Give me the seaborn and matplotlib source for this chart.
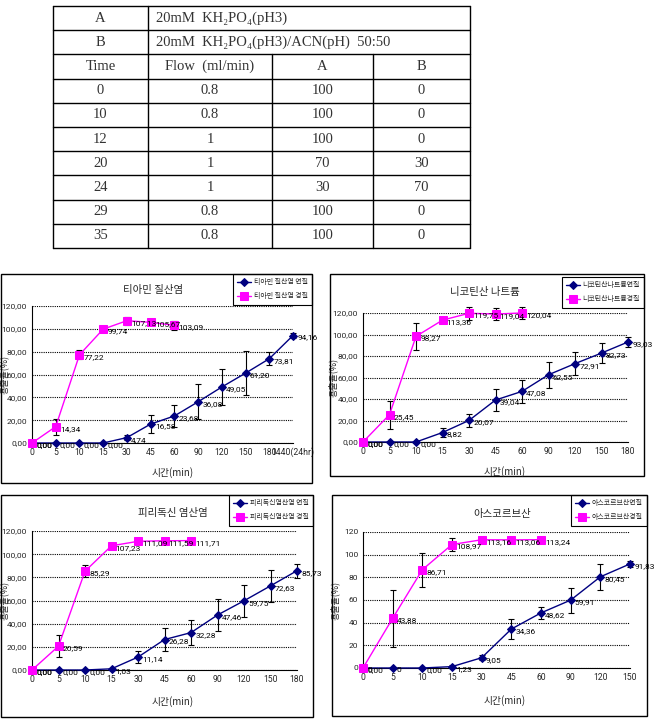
import numpy as np
import matplotlib
matplotlib.use("Agg")
import matplotlib.pyplot as plt
from matplotlib.patches import Rectangle
import seaborn as sns

# 표 데이터 (이동상 조건)
solvent_names = ["A", "B"]
solvent_desc = ["20mM  KH₂PO₄(pH3)", "20mM  KH₂PO₄(pH3)/ACN(pH)  50:50"]
table_header = ["Time", "Flow  (ml/min)", "A", "B"]
grad_time = ["0", "10", "12", "20", "24", "29", "35"]
grad_flow = ["0.8", "0.8", "1", "1", "1", "0.8", "0.8"]
grad_a = ["100", "100", "100", "70", "30", "100", "100"]
grad_b = ["0", "0", "0", "30", "70", "0", "0"]

# 용출 데이터
time_1 = ["0", "5", "10", "15", "30", "45", "60", "90", "120", "150", "180", "1440(24hr)"]
thi_soft = [0, 0, 0, 0, 4.74, 16.58, 23.68, 36.08, 49.05, 61.20, 73.81, 94.16]
thi_soft_err = [0, 0, 0, 0, 2, 8, 10, 15.3, 16.2, 19.4, 5.6, 2]
thi_hard = [0, 14.34, 77.22, 99.74, 107.13, 105.67, 103.09]
thi_hard_err = [0, 7, 4, 2, 3.5, 2, 4]

time_2 = ["0", "5", "10", "15", "30", "45", "60", "90", "120", "150", "180"]
nic_soft = [0, 0, 0, 8.82, 20.07, 39.04, 47.08, 62.55, 72.91, 82.73, 93.03]
nic_soft_err = [0, 0, 0, 4.5, 6, 10, 11, 12, 11, 9, 5]
nic_hard = [0, 25.45, 98.27, 113.36, 119.75, 119.04, 120.04]
nic_hard_err = [0, 13, 12.6, 2, 6, 6, 6]

time_3 = ["0", "5", "10", "15", "30", "45", "60", "90", "120", "150", "180"]
pyr_soft = [0, 0, 0, 1.03, 11.14, 26.28, 32.28, 47.46, 59.75, 72.63, 85.73]
pyr_soft_err = [0, 0, 0, 1, 5.5, 10, 11, 14, 13.6, 13.5, 6]
pyr_hard = [0, 20.59, 85.29, 107.23, 111.09, 111.59, 111.71]
pyr_hard_err = [0, 9.6, 5, 2, 1.5, 1.5, 1.5]

time_4 = ["0", "5", "10", "15", "30", "45", "60", "90", "120", "150"]
asc_soft = [0, 0, 0, 1.23, 9.05, 34.36, 48.62, 59.91, 80.45, 91.83]
asc_soft_err = [0, 0, 0, 1, 2, 9, 5.3, 11, 11.5, 3]
asc_hard = [0, 43.88, 86.71, 108.97, 113.16, 113.06, 113.24]
asc_hard_err = [0, 25, 15, 5.5, 1.5, 1.5, 1.5]

titles = ["티아민 질산염", "니코틴산 나트륨", "피리독신 염산염", "아스코르브산"]
legend_names = [
    ["티아민 질산염 연질", "티아민 질산염 경질"],
    ["니코틴산나트륨연질", "니코틴산나트륨경질"],
    ["피리독신염산염 연질", "피리독신염산염 경질"],
    ["아스코르브산연질", "아스코르브산경질"],
]

sns.set_style("white")
plt.rcParams["font.family"] = ["Noto Sans CJK KR", "DejaVu Sans"]
NARROW = ["Liberation Sans Narrow", "Roboto", "DejaVu Sans"]

W, H = 654, 719
NAVY = "#000080"
PINK = "#FF00FF"


def rect(x0, y0, x1, y1):
    return [x0 / W, 1 - y1 / H, (x1 - x0) / W, (y1 - y0) / H]


def fmt(v):
    return f"{v:.2f}".replace(".", ",")


fig = plt.figure(figsize=(W / 100, H / 100), dpi=100)

# ---- 표 ----
tx = [53, 148, 272, 373, 470]
ty = np.linspace(6, 248, 11)
ax_t = fig.add_axes(rect(0, 0, W, H))
ax_t.set_xlim(0, W)
ax_t.set_ylim(H, 0)
ax_t.axis("off")
tfont = dict(family=["Liberation Serif", "DejaVu Serif"], fontsize=10.5, color="#333333", va="center")
for y in ty:
    ax_t.plot([tx[0], tx[-1]], [y, y], color="black", lw=1)
for x in [tx[0], tx[1], tx[-1]]:
    ax_t.plot([x, x], [ty[0], ty[-1]], color="black", lw=1)
for x in [tx[2], tx[3]]:
    ax_t.plot([x, x], [ty[2], ty[-1]], color="black", lw=1)
for i in range(2):
    yc = (ty[i] + ty[i + 1]) / 2
    ax_t.text((tx[0] + tx[1]) / 2, yc, solvent_names[i], ha="center", **tfont)
    ax_t.text(tx[1] + 8, yc, solvent_desc[i], ha="left", **tfont)
rows = [table_header] + [list(r) for r in zip(grad_time, grad_flow, grad_a, grad_b)]
for r, row in enumerate(rows):
    yc = (ty[r + 2] + ty[r + 3]) / 2
    for c, val in enumerate(row):
        ax_t.text((tx[c] + tx[c + 1]) / 2, yc, val, ha="center", **tfont)

# ---- 그래프 ----
panels = [
    (time_1, thi_soft, thi_soft_err, thi_hard, thi_hard_err),
    (time_2, nic_soft, nic_soft_err, nic_hard, nic_hard_err),
    (time_3, pyr_soft, pyr_soft_err, pyr_hard, pyr_hard_err),
    (time_4, asc_soft, asc_soft_err, asc_hard, asc_hard_err),
]
plot_boxes = [(32, 306, 293, 443), (363, 313, 628, 442), (32, 531, 297, 670), (363, 532, 630, 668)]
frames = [(1, 274, 312, 483), (330, 274, 644, 476), (1, 495, 313, 717), (332, 495, 647, 716)]
legend_corner = [(312, 274), (644, 277), (313, 495), (647, 495)]
title_pos = [(153, 290), (485, 292), (173, 513), (502, 514)]
xlabel_pos = [(173, 473), (505, 472), (173, 702), (505, 701)]

for k, (cats, soft, soft_err, hard, hard_err) in enumerate(panels):
    fx0, fy0, fx1, fy1 = frames[k]
    fig.add_artist(Rectangle((fx0 / W, 1 - fy1 / H), (fx1 - fx0) / W, (fy1 - fy0) / H,
                             transform=fig.transFigure, fill=False, ec="black", lw=1))
    ax = fig.add_axes(rect(*plot_boxes[k]))
    xs = np.arange(len(cats))
    xh = np.arange(len(hard))
    sns.lineplot(x=xs, y=soft, ax=ax, color=NAVY, marker="D", markersize=4,
                 markeredgecolor=NAVY, linewidth=1, clip_on=False, zorder=3, label=legend_names[k][0])
    sns.lineplot(x=xh, y=hard, ax=ax, color=PINK, marker="s", markersize=5.5,
                 markeredgecolor=PINK, linewidth=1, clip_on=False, zorder=4, label=legend_names[k][1])
    for xv, yv, ev in [(xs, soft, soft_err), (xh, hard, hard_err)]:
        ev = np.array(ev)
        m = ev > 0
        ax.errorbar(np.array(xv)[m], np.array(yv)[m], yerr=ev[m], fmt="none", ecolor="black",
                    elinewidth=0.8, capsize=2, capthick=0.8, clip_on=False, zorder=2)
    soft_lbl = [fmt(v) for v in soft]
    if k == 3:
        soft_lbl[0] = soft_lbl[1] = "0"
    for xv, yv, lbls in [(xs, soft, soft_lbl), (xh, hard, [fmt(v) for v in hard])]:
        for x, y, t in zip(xv, yv, lbls):
            ax.annotate(t, (x, y), xytext=(3, -1.5), textcoords="offset points",
                        ha="left", va="center", fontsize=6, color="black", zorder=5,
                        family=NARROW, annotation_clip=False)
    ax.set_xlim(0, len(cats) - 1)
    ax.set_ylim(0, 120)
    ax.set_xticks(xs)
    ax.set_xticklabels(cats, fontsize=6.2, family=NARROW)
    yt = list(range(0, 121, 20))
    ax.set_yticks(yt)
    ax.set_yticklabels([str(v) if k == 3 else fmt(v) for v in yt], fontsize=6, family=NARROW)
    ax.tick_params(axis="both", length=2, width=0.8, color="black", pad=1.5, direction="out")
    ax.yaxis.grid(True, linestyle=(0, (1, 1)), color="black", lw=0.8)
    ax.xaxis.grid(False)
    for s in ["top", "right"]:
        ax.spines[s].set_visible(False)
    for s in ["left", "bottom"]:
        ax.spines[s].set_color("black")
        ax.spines[s].set_linewidth(0.8)
    ax.set_xlabel("")
    ax.set_ylabel("용출율(%)", fontsize=6.5)
    px0, py0, px1, py1 = plot_boxes[k]
    ax.yaxis.set_label_coords((fx0 + 8 - px0) / (px1 - px0), 0.5)
    lx, ly = legend_corner[k]
    ax.legend(loc="upper right", bbox_to_anchor=(lx / W, 1 - ly / H), bbox_transform=fig.transFigure,
              fontsize=5, frameon=True, fancybox=False, edgecolor="black", framealpha=1,
              borderpad=0.6, handlelength=2.0, handletextpad=0.4, labelspacing=0.9, borderaxespad=0)
    ax.get_legend().get_frame().set_linewidth(0.8)
    tpx, tpy = title_pos[k]
    fig.text(tpx / W, 1 - tpy / H, titles[k], ha="center", va="center", fontsize=7.5)
    xlx, xly = xlabel_pos[k]
    fig.text(xlx / W, 1 - xly / H, "시간(min)", ha="center", va="center", fontsize=7)

fig.savefig("out.png", dpi=100)
